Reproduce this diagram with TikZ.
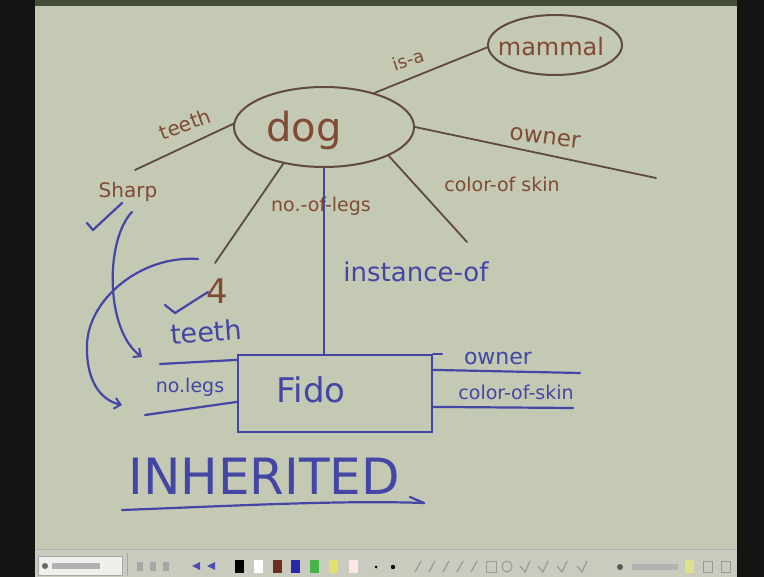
\documentclass[tikz,border=0pt]{standalone}
\usepackage{fontspec}
\setmainfont{DejaVu Sans}
\usetikzlibrary{shapes.geometric,arrows.meta}

\definecolor{frameblack}{RGB}{20,20,18}
\definecolor{topstrip}{RGB}{70,76,58}
\definecolor{board}{RGB}{195,201,179}
\definecolor{toolbar}{RGB}{201,203,190}
\definecolor{brownink}{RGB}{128,74,52}
\definecolor{brownline}{RGB}{96,74,60}
\definecolor{blueink}{RGB}{68,70,165}
\definecolor{tbbrown}{RGB}{110,45,35}
\definecolor{tbblue}{RGB}{40,40,170}
\definecolor{tbgreen}{RGB}{70,180,70}
\definecolor{tbyellow}{RGB}{225,225,110}
\definecolor{tbpale}{RGB}{225,225,140}

\newcommand\inksize[1]{\fontsize{#1}{#1}\selectfont}

\tikzset{
  brownshape/.style={draw=brownline, line width=2pt, inner sep=0pt},
  brownedge/.style={draw=brownline, line width=1.8pt, line cap=round},
  browntext/.style={text=brownink, inner sep=0pt},
  blueedge/.style={draw=blueink, line width=2.2pt, line cap=round, line join=round},
  bluetext/.style={text=blueink, inner sep=0pt},
  bluearrow/.style={blueedge, -{Straight Barb[length=6pt,width=11pt,line width=2pt]}},
  tbicon/.style={fill=gray!70, draw=none},
}

\begin{document}
\begin{tikzpicture}[x=1pt,y=-1pt]
  \useasboundingbox (0,0) rectangle (764,577);

  % screen frame, board and toolbar
  \fill[frameblack] (0,0) rectangle (764,577);
  \fill[topstrip] (35,0) rectangle (737,6);
  \fill[board] (35,6) rectangle (737,549);
  \fill[toolbar] (35,549) rectangle (737,577);
  \draw[gray!60, line width=0.8pt] (35,549.5) -- (737,549.5);

  % ---- semantic network (brown) ----
  \node[brownshape, ellipse, minimum width=180pt, minimum height=80pt] (dog) at (324,127) {};
  \node[browntext, font=\inksize{40}] (doglabel) at (304,130) {dog};

  \node[brownshape, ellipse, minimum width=134pt, minimum height=60pt] (mammal) at (555,45) {};
  \node[browntext, font=\inksize{24}] (mammallabel) at (551,47) {mammal};

  \coordinate (teethend) at (135,170);
  \coordinate (ownerend) at (656,178);
  \coordinate (colorend) at (467,242);
  \coordinate (legsend) at (215,263);

  \draw[brownedge] (dog.34) -- (mammal.182);
  \draw[brownedge] (dog.178) -- (teethend);
  \draw[brownedge] (dog.0) -- (ownerend);
  \draw[brownedge] (dog.-24) -- (colorend);
  \draw[brownedge] (dog.222) -- (legsend);

  \node[browntext, font=\inksize{18}, rotate=18] (isa) at (408,60) {is-a};
  \node[browntext, font=\inksize{20}, rotate=20] (teethlbl) at (185,124) {teeth};
  \node[browntext, font=\inksize{23}, rotate=-7] (ownerlbl) at (545,138) {owner};
  \node[browntext, font=\inksize{19}] (colorlbl) at (502,184) {color-of skin};
  \node[browntext, font=\inksize{19}] (legslbl) at (321,206) {no.-of-legs};
  \node[browntext, font=\inksize{20}] (sharp) at (128,192) {Sharp};
  \node[browntext, font=\inksize{34}] (four) at (217,291) {4};

  % ---- instance Fido (blue) ----
  \node[draw=blueink, line width=2.2pt, minimum width=194pt, minimum height=77pt, inner sep=0pt] (fido) at (335,393.5) {};
  \node[bluetext, font=\inksize{34}] (fidolabel) at (311,390) {Fido};

  \draw[blueedge] (dog.south) -- (dog.south |- fido.north);
  \node[bluetext, font=\inksize{26}] (instlbl) at (416,272) {instance-of};
  \draw[blueedge] (fido.north east) -- ++(9,0);

  \coordinate (teethline) at (160,364);
  \coordinate (legsline) at (145,415);
  \coordinate (ownerline) at (580,373);
  \coordinate (colorline) at (573,408);

  \draw[blueedge] ([yshift=-6pt]fido.north west) -- (teethline);
  \draw[blueedge] ([yshift=-48pt]fido.north west) -- (legsline);
  \draw[blueedge] ([yshift=-16pt]fido.north east) -- (ownerline);
  \draw[blueedge] ([yshift=-53pt]fido.north east) -- (colorline);

  \node[bluetext, font=\inksize{27}, rotate=4] (teethblue) at (206,332) {teeth};
  \node[bluetext, font=\inksize{19}] (legsblue) at (190,387) {no.legs};
  \node[bluetext, font=\inksize{22}] (ownerblue) at (498,358) {owner};
  \node[bluetext, font=\inksize{19}] (colorblue) at (516,392) {color-of-skin};

  % ticks and inheritance arrows
  \draw[blueedge] (87,223) -- (93,230) -- (122,203);
  \draw[blueedge] (165,305) -- (175,313) -- (208,292);
  \draw[bluearrow] (132,212) .. controls (105,240) and (105,330) .. (142,357);
  \draw[bluearrow] (198,259) .. controls (140,255) and (88,300) .. (87,345)
                   .. controls (86,380) and (100,400) .. (122,405);

  % INHERITED
  \node[bluetext, font=\inksize{50}] (inherited) at (264,476) {INHERITED};
  \draw[blueedge] (122,510) .. controls (230,506) and (340,500) .. (424,503);
  \draw[blueedge] (410,497) -- (424,503);

  % ---- toolbar ----
  \fill[white!70!toolbar] (38,556) rectangle (122,575);
  \draw[gray!70, line width=0.6pt] (38,556) rectangle (122,575);
  \fill[gray!80!black] (45,566) circle (3pt);
  \fill[gray!60] (52,563) rectangle (100,569);
  \draw[gray!70, line width=0.6pt] (127,553) -- (127,576);
  \foreach \ix in {140,153,166} \fill[tbicon] (\ix-3,562) rectangle (\ix+3,571);
  \fill[blue!40!gray] (192,566) -- (200,562) -- (200,570) -- cycle;
  \fill[blue!40!gray] (207,566) -- (215,562) -- (215,570) -- cycle;
  \fill[black] (235,560) rectangle (244,573);
  \fill[white] (254,560) rectangle (263,573);
  \fill[tbbrown] (273,560) rectangle (282,573);
  \fill[tbblue] (291,560) rectangle (300,573);
  \fill[tbgreen] (310,560) rectangle (319,573);
  \fill[tbyellow] (329,560) rectangle (338,573);
  \fill[pink!40!white] (349,560) rectangle (358,573);
  \fill[black] (376,567) circle (1.5pt);
  \fill[black] (393,567) circle (2.2pt);
  \foreach \ix in {418,432,446,460,474} \draw[gray!80, line width=1.2pt] (\ix-3,572) -- (\ix+3,561);
  \draw[gray!80, line width=1pt] (486,561) rectangle (496,572);
  \draw[gray!80, line width=1pt] (507,566.5) ellipse (5pt and 5.5pt);
  \foreach \ix in {525,543,562,582} \draw[gray!80, line width=1.2pt] (\ix-5,566) -- (\ix,572) -- (\ix+5,561);
  \fill[gray!70!black] (620,567) circle (3pt);
  \fill[gray!60] (632,564) rectangle (678,570);
  \fill[tbpale] (685,560) rectangle (694,573);
  \draw[gray!80, line width=1pt] (703,561) rectangle (712,572);
  \draw[gray!80, line width=1pt] (721,561) rectangle (730,572);
\end{tikzpicture}
\end{document}
